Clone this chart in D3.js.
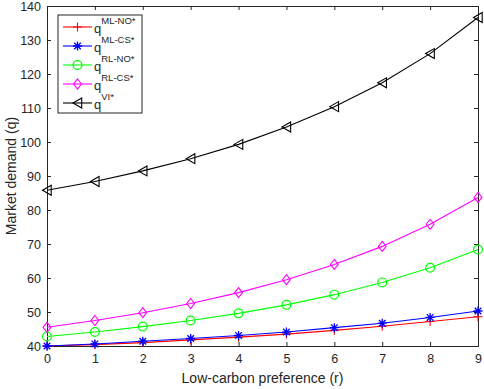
<!DOCTYPE html>
<html><head><meta charset="utf-8">
<script src="https://cdn.jsdelivr.net/npm/d3@7/dist/d3.min.js"></script>
<style>body{margin:0;background:#fff}svg{display:block;font-family:"Liberation Sans",Arial,sans-serif}</style>
</head><body><svg id="c" width="484" height="389"></svg>
<script>
const r = [0,1,2,3,4,5,6,7,8,9];
const mlNO = [40.0,40.4,41.0,41.8,42.6,43.5,44.6,45.8,47.2,48.6];
const mlCS = [40.0,40.6,41.4,42.2,43.1,44.1,45.4,46.7,48.4,50.3];
const rlNO = [42.8,44.1,45.7,47.5,49.6,52.1,55.1,58.7,63.0,68.4];
const rlCS = [45.5,47.5,49.8,52.5,55.7,59.5,64.0,69.3,75.8,83.7];
const vi   = [85.8,88.4,91.5,95.1,99.3,104.4,110.4,117.4,126.0,136.6];
const xTicks = [0,1,2,3,4,5,6,7,8,9];
const yTicks = [40,50,60,70,80,90,100,110,120,130,140];
const seriesNames = ["ML-NO*","ML-CS*","RL-NO*","RL-CS*","VI*"];
const seriesColors = ["#ff0000","#0000ff","#00ff00","#ff00ff","#000000"];
const seriesMarkers = ["plus","star","circle","diamond","triangle"];
const seriesData = [mlNO, mlCS, rlNO, rlCS, vi];

const svg = d3.select("#c");
const L=47, R=478, T=6, B=346;
const x = d3.scaleLinear().domain([0,9]).range([L,R]);
const y = d3.scaleLinear().domain([40,140]).range([B,T]);
const axc = "#262626";

const g = svg.append("g");
const xa = g.append("g").attr("transform",`translate(0,${B})`).call(d3.axisBottom(x).tickValues(xTicks).tickSize(-4).tickPadding(8).tickFormat(d3.format("d")));
const ya = g.append("g").attr("transform",`translate(${L},0)`).call(d3.axisLeft(y).tickValues(yTicks).tickSize(-4).tickPadding(6));
const xt = g.append("g").attr("transform",`translate(0,${T})`).call(d3.axisTop(x).tickValues(xTicks).tickSize(-4).tickFormat(""));
const yr = g.append("g").attr("transform",`translate(${R},0)`).call(d3.axisRight(y).tickValues(yTicks).tickSize(-4).tickFormat(""));
[xa,ya,xt,yr].forEach(a=>{
  a.selectAll("path").attr("stroke",axc).attr("stroke-width",1);
  a.selectAll("line").attr("stroke",axc);
  a.selectAll("text").attr("fill",axc).style("font-size","12.5px").style("font-family","'Liberation Sans',Arial,sans-serif");
});

function marker(sel, type, color){
  if(type==="plus"){
    sel.append("path").attr("d","M-4.5,0H4.5M0,-4.5V4.5").attr("stroke",color).attr("fill","none").attr("stroke-width",1.1);
  } else if(type==="star"){
    sel.append("path").attr("d","M-4.5,0H4.5M0,-4.5V4.5M-3.3,-3.3L3.3,3.3M-3.3,3.3L3.3,-3.3").attr("stroke",color).attr("fill","none").attr("stroke-width",1.3);
  } else if(type==="circle"){
    sel.append("circle").attr("r",4.4).attr("stroke",color).attr("fill","none").attr("stroke-width",1.2);
  } else if(type==="diamond"){
    sel.append("path").attr("d","M0,-5L3.9,0L0,5L-3.9,0Z").attr("stroke",color).attr("fill","none").attr("stroke-width",1.1);
  } else if(type==="triangle"){
    sel.append("path").attr("d","M-4.5,0L4.2,-5L4.2,5Z").attr("stroke",color).attr("fill","none").attr("stroke-width",1.1);
  }
}

const line = d3.line().x((d,i)=>x(r[i])).y(d=>y(d));
seriesData.forEach((vals,k)=>{
  g.append("path").datum(vals).attr("d",line).attr("fill","none").attr("stroke",seriesColors[k]).attr("stroke-width",1.1);
  vals.forEach((v,i)=>{
    const m = g.append("g").attr("transform",`translate(${x(r[i])},${y(v)})`);
    marker(m, seriesMarkers[k], seriesColors[k]);
  });
});

svg.append("text").attr("x",(L+R)/2).attr("y",383).attr("text-anchor","middle").attr("fill",axc)
  .style("font-size","14px").text("Low-carbon preference (r)");
svg.append("text").attr("transform",`translate(16,${(T+B)/2}) rotate(-90)`).attr("text-anchor","middle").attr("fill",axc)
  .style("font-size","14px").text("Market demand (q)");

const lg = svg.append("g");
lg.append("rect").attr("x",58).attr("y",15).attr("width",84).attr("height",98).attr("fill","#fff").attr("stroke",axc).attr("stroke-width",1);
const ly = [27,46,65,84,103];
seriesNames.forEach((n,k)=>{
  lg.append("line").attr("x1",63).attr("x2",92).attr("y1",ly[k]).attr("y2",ly[k]).attr("stroke",seriesColors[k]).attr("stroke-width",1.1);
  const m = lg.append("g").attr("transform",`translate(77.5,${ly[k]})`);
  marker(m, seriesMarkers[k], seriesColors[k]);
  const t = lg.append("text").attr("x",94).attr("y",ly[k]+6).attr("fill",axc).style("font-size","13px");
  t.append("tspan").text("q");
  t.append("tspan").attr("dy",-9).style("font-size","9.5px").text(n);
});
</script></body></html>
